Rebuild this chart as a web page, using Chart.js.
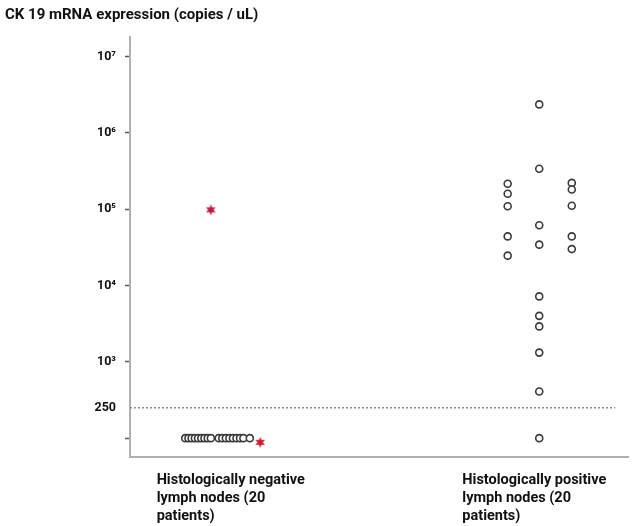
<!DOCTYPE html>
<html><head><meta charset="utf-8">
<script src="https://cdn.jsdelivr.net/npm/chart.js@4.4.1/dist/chart.umd.min.js"></script>
<style>html,body{margin:0;padding:0;background:#fff}canvas{display:block}</style>
</head><body>
<canvas id="c" width="635" height="526"></canvas>
<script>
// ---- data ----
const titleText = 'CK 19 mRNA expression (copies / uL)';
const categoryLabels = [
  ['Histologically negative', 'lymph nodes (20', 'patients)'],
  ['Histologically positive', 'lymph nodes (20', 'patients)']
];
const categoryTickX = [27, 337];
const yTickValues = [100, 250, 1000, 10000, 100000, 1000000, 10000000];
const yTickLabels = ['', '250', '10³', '10⁴', '10⁵', '10⁶', '10⁷'];

const negCircleX = [56, 59.3, 62.5, 65.8, 69, 72.3, 75.5, 78.8, 82, 90, 93.6, 97.2, 100.8, 104.4, 108, 111.6, 115, 121.5];
const negCircleY = [100, 100, 100, 100, 100, 100, 100, 100, 100, 100, 100, 100, 100, 100, 100, 100, 100, 100];
const negStarX = [82, 132];
const negStarY = [98000, 88];

const posX = [383, 383, 383, 383, 383,
              415, 415, 415, 415, 415, 415, 415, 415, 415, 415,
              448, 448, 448, 448, 448];
const posY = [215000, 159000, 109000, 44000, 24600,
              2360000, 338000, 61500, 34300, 7200, 4000, 2910, 1320, 408, 100,
              221000, 181000, 111000, 44000, 30000];

const cutoffValue = 250;
const cutoffX = [0, 492];

// ---- helpers ----
function starCanvas(color) {
  const c = document.createElement('canvas');
  c.width = 13; c.height = 13;
  const g = c.getContext('2d');
  g.fillStyle = color;
  g.beginPath();
  for (let i = 0; i < 12; i++) {
    const r = (i % 2) ? 2.7 : 5.6;
    const a = -Math.PI / 2 + i * Math.PI / 6;
    const px = 6.5 + r * Math.cos(a), py = 6.5 + r * Math.sin(a);
    if (i === 0) g.moveTo(px, py); else g.lineTo(px, py);
  }
  g.closePath();
  g.fill();
  return c;
}
const starUpper = starCanvas('#c41848');
const starLower = starCanvas('#d8182c');

const toPts = (xs, ys) => xs.map((x, i) => ({x: x, y: ys[i]}));
const FONT = 'Roboto, "DejaVu Sans", sans-serif';

new Chart(document.getElementById('c'), {
  type: 'scatter',
  data: {
    datasets: [
      {
        type: 'line',
        data: cutoffX.map(x => ({x: x, y: cutoffValue})),
        borderColor: '#8a8a8a',
        borderWidth: 1.5,
        borderDash: [2, 2],
        pointRadius: 0,
        fill: false,
        order: 3
      },
      {
        data: toPts(negCircleX, negCircleY),
        pointStyle: 'circle',
        pointRadius: 3.5,
        borderWidth: 1.6,
        borderColor: '#3a3a3a',
        backgroundColor: '#ffffff',
        order: 2
      },
      {
        data: toPts(posX, posY),
        pointStyle: 'circle',
        pointRadius: 3.5,
        borderWidth: 1.6,
        borderColor: '#3a3a3a',
        backgroundColor: '#ffffff',
        order: 2
      },
      {
        data: toPts(negStarX, negStarY),
        pointStyle: [starUpper, starLower],
        pointRadius: 6,
        order: 1
      }
    ]
  },
  options: {
    responsive: false,
    animation: false,
    devicePixelRatio: 1,
    layout: {padding: {left: 5, right: 0, top: 0, bottom: 0}},
    plugins: {
      legend: {display: false},
      tooltip: {enabled: false},
      title: {
        display: true,
        text: titleText,
        align: 'start',
        color: '#111',
        font: {family: FONT, size: 15, weight: 'bold', lineHeight: 1.1},
        padding: {top: 7, bottom: 13}
      }
    },
    scales: {
      x: {
        type: 'linear',
        min: 0,
        max: 505,
        afterBuildTicks: s => { s.ticks = categoryTickX.map(v => ({value: v})); },
        afterFit: s => { s.height = 69; },
        grid: {display: false},
        border: {display: true, color: '#b0b0b0', width: 2},
        ticks: {
          align: 'start',
          autoSkip: false,
          maxRotation: 0,
          padding: 6,
          color: '#111',
          font: {family: FONT, size: 14.5, weight: 'bold', lineHeight: 1.25},
          callback: (v, i) => categoryLabels[i]
        }
      },
      y: {
        type: 'logarithmic',
        min: 56.6,
        max: 18300000,
        afterBuildTicks: s => { s.ticks = yTickValues.map(v => ({value: v})); },
        afterFit: s => { s.width = 125; },
        grid: {
          drawOnChartArea: false,
          tickLength: 5,
          tickWidth: 1.5,
          color: '#555',
          tickColor: ctx => (ctx.tick && ctx.tick.value === cutoffValue) ? 'rgba(0,0,0,0)' : '#555'
        },
        border: {display: true, color: '#b0b0b0', width: 2},
        ticks: {
          autoSkip: false,
          padding: 9,
          color: '#111',
          font: {family: FONT, size: 12.5, weight: 'bold'},
          callback: function (v, i) { return yTickLabels[i]; }
        }
      }
    }
  }
});
</script>
</body></html>
